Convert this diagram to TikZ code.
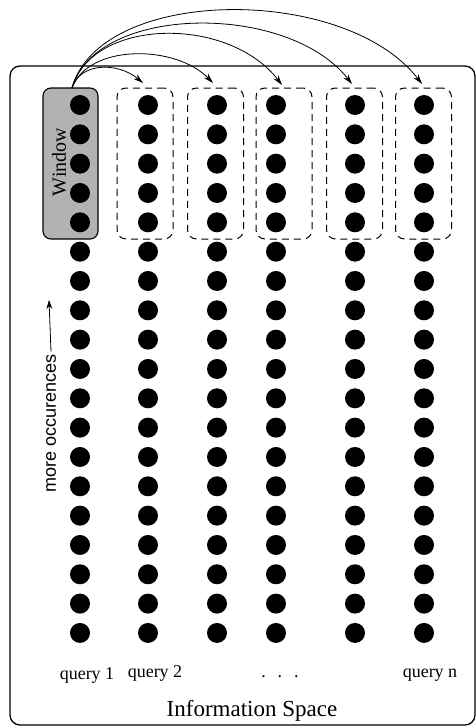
\documentclass[tikz,border=0pt]{standalone}
\usepackage{fontspec}
\setmainfont{Liberation Serif}
\newfontfamily\sansf{Liberation Sans}
\usetikzlibrary{arrows.meta}
\begin{document}
\begin{tikzpicture}[x=1pt,y=-1pt,
  dot/.style={circle,fill=black,inner sep=0pt,minimum size=20pt},
  winbox/.style={draw,line width=1.1pt,fill=black!30,rounded corners=8pt,minimum width=55pt,minimum height=151pt,inner sep=0pt},
  qbox/.style={draw,line width=1pt,dash pattern=on 7pt off 5pt,rounded corners=9pt,minimum width=56pt,minimum height=151pt,inner sep=0pt},
  arc/.style={line width=0.8pt,-{Stealth[length=10pt,width=6pt]}},
  qlabel/.style={font=\fontsize{18}{20}\selectfont,anchor=base,inner sep=0pt}]
\useasboundingbox (0,0) rectangle (476,728);
% outer frame
\node[draw,line width=1.3pt,rounded corners=10pt,minimum width=465pt,minimum height=659pt,inner sep=0pt] (frame) at (242.5,395.5) {};
% window and query boxes
\node[winbox] (win) at (70.5,163.5) {};
\node[qbox] (q2) at (145,163.5) {};
\node[qbox] (q3) at (215.5,163.5) {};
\node[qbox] (q4) at (284,163.5) {};
\node[qbox] (q5) at (354.5,163.5) {};
\node[qbox] (q6) at (423.5,163.5) {};
% dots
\foreach \c/\x in {1/80,2/148,3/217,4/276,5/355,6/424}{
  \foreach \r in {0,...,18}{
    \node[dot] (d-\c-\r) at (\x,{105+\r*29.33}) {};
  }
}
% window label
\node[rotate=90,font=\fontsize{20}{22}\selectfont,inner sep=0pt] (wlab) at (59,162) {Window};
% more occurrences
\node[rotate=90,font=\sansf\fontsize{18}{20}\selectfont,inner sep=0pt,anchor=west] (occ) at (51,493) {more occurences};
\coordinate (occtip) at (49,300);
\draw[line width=0.8pt,-{Stealth[length=9pt,width=6pt]}] ([yshift=3pt]occ.east) -- (occtip);
% arcs
\coordinate (s) at (72,88);
\coordinate (t2) at (143,83);
\coordinate (t3) at (213,83);
\coordinate (t4) at (282,85);
\coordinate (t5) at (352,84);
\coordinate (t6) at (422,84);
\draw[arc] (s) .. controls (80,62) and (118,62) .. (t2);
\draw[arc] (s) .. controls (88,44) and (175,44) .. (t3);
\draw[arc] (s) .. controls (92,18) and (228,15) .. (t4);
\draw[arc] (s) .. controls (96,4) and (288,2) .. (t5);
\draw[arc] (s) .. controls (100,-14) and (345,-16) .. (t6);
% labels
\node[qlabel] (l1) at (87,679) {query 1};
\node[qlabel] (l2) at (155,677) {query 2};
\node[qlabel] (l3) at (280,677) {.\hspace{12pt}.\hspace{12pt}.};
\node[qlabel] (l6) at (430,677) {query n};
\node[font=\fontsize{23}{26}\selectfont,anchor=base,inner sep=0pt] (info) at (252,716) {Information Space};
\end{tikzpicture}
\end{document}
